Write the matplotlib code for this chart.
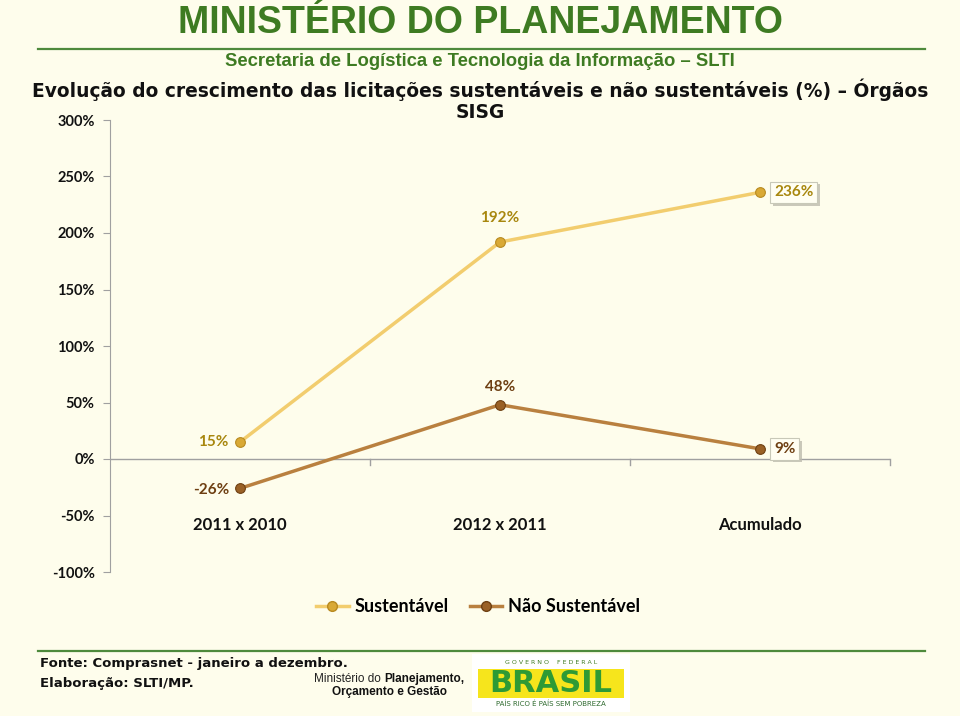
import matplotlib
matplotlib.use("Agg")
import matplotlib.pyplot as plt
from matplotlib.lines import Line2D
from matplotlib.patches import Rectangle
import matplotlib.patheffects as pe

categories = ["2011 x 2010", "2012 x 2011", "Acumulado"]
sustentavel = [15, 192, 236]
nao_sustentavel = [-26, 48, 9]
series_names = ["Sustentável", "Não Sustentável"]
yticks = [-100, -50, 0, 50, 100, 150, 200, 250, 300]

BG = "#FEFDEC"
GREEN = "#3E7B22"
C_S_LINE = "#F2CD6E"
C_S_MARK = "#D9A935"
C_S_TXT = "#A8870E"
C_N_LINE = "#B9803F"
C_N_MARK = "#9A6126"
C_N_TXT = "#6E3F12"
NARROW = ["Liberation Sans Narrow", "Liberation Sans"]

fig = plt.figure(figsize=(9.6, 7.16), dpi=100, facecolor=BG)

# Header
fig.text(0.5, 1 - 23 / 716, "MINISTÉRIO DO PLANEJAMENTO", ha="center", va="center",
         fontsize=27, color=GREEN, fontweight="bold", family=NARROW)
fig.add_artist(Line2D([38 / 960, 925 / 960], [1 - 49 / 716, 1 - 49 / 716],
                      color="#4E8A3C", lw=1.6))
fig.text(0.5, 1 - 62 / 716, "Secretaria de Logística e Tecnologia da Informação – SLTI",
         ha="center", va="center", fontsize=13.3, color=GREEN, fontweight="bold",
         family=NARROW)
fig.text(0.5, 1 - 90 / 716,
         "Evolução do crescimento das licitações sustentáveis e não sustentáveis (%) – Órgãos",
         ha="center", va="center", fontsize=13.4, fontweight="bold", color="#111111",
         family="DejaVu Sans")
fig.text(0.5, 1 - 113 / 716, "SISG", ha="center", va="center", fontsize=13.4,
         fontweight="bold", color="#111111", family="DejaVu Sans")

# Chart
ax = fig.add_axes([110 / 960, 1 - 572 / 716, 780 / 960, 452 / 716])
ax.set_facecolor(BG)
x = list(range(len(categories)))
ax.set_xlim(-0.5, len(categories) - 0.5)
ax.set_ylim(-100, 300)

ax.plot(x, sustentavel, color=C_S_LINE, lw=2.5, marker="o", ms=7,
        mfc=C_S_MARK, mec="#B88A20", mew=0.8, zorder=3)
ax.plot(x, nao_sustentavel, color=C_N_LINE, lw=2.5, marker="o", ms=7,
        mfc=C_N_MARK, mec="#6E4012", mew=0.8, zorder=3)

for sp in ["top", "right", "bottom"]:
    ax.spines[sp].set_visible(False)
ax.spines["left"].set_color("#A0A0A0")
ax.set_yticks(yticks)
ax.set_yticklabels([f"{v}%" for v in yticks], fontsize=10.5, fontweight="bold",
                   family="Lato", color="#111111")
ax.tick_params(axis="y", length=5, color="#A0A0A0", pad=6)
ax.set_xticks([])
ax.axhline(0, color="#A0A0A0", lw=1, zorder=1)
for b in [i + 0.5 for i in x]:
    ax.plot([b, b], [0, -5], color="#A0A0A0", lw=1, clip_on=False)

# Category labels
for xi, c in zip(x, categories):
    ax.text(xi, -58, c, ha="center", va="center", fontsize=12, fontweight="bold",
            family="Lato", color="#111111")

lab_kw = dict(fontsize=11, fontweight="bold", family="Lato")
box = dict(boxstyle="square,pad=0.25", fc="#FFFEF2", ec="#C8C8B8", lw=0.8)


def boxed(xv, yv, txt, color):
    t = ax.annotate(txt, (xv, yv), xytext=(10, 0), textcoords="offset points",
                    ha="left", va="center", color=color, bbox=box, **lab_kw)
    t.get_bbox_patch().set_path_effects(
        [pe.SimplePatchShadow(offset=(2, -2), shadow_rgbFace="#BDBBAE", alpha=0.8),
         pe.Normal()])


# Sustentável labels
ax.annotate(f"{sustentavel[0]}%", (x[0], sustentavel[0]), xytext=(-8, 0),
            textcoords="offset points", ha="right", va="center", color=C_S_TXT, **lab_kw)
ax.annotate(f"{sustentavel[1]}%", (x[1], sustentavel[1]), xytext=(0, 12),
            textcoords="offset points", ha="center", va="bottom", color=C_S_TXT, **lab_kw)
boxed(x[2], sustentavel[2], f"{sustentavel[2]}%", C_S_TXT)
# Não sustentável labels
ax.annotate(f"{nao_sustentavel[0]}%", (x[0], nao_sustentavel[0]), xytext=(-8, -1),
            textcoords="offset points", ha="right", va="center", color=C_N_TXT, **lab_kw)
ax.annotate(f"{nao_sustentavel[1]}%", (x[1], nao_sustentavel[1]), xytext=(0, 8),
            textcoords="offset points", ha="center", va="bottom", color=C_N_TXT, **lab_kw)
boxed(x[2], nao_sustentavel[2], f"{nao_sustentavel[2]}%", C_N_TXT)

# Legend
handles = [
    Line2D([], [], color=C_S_LINE, lw=2.5, marker="o", ms=7, mfc=C_S_MARK, mec="#B88A20"),
    Line2D([], [], color=C_N_LINE, lw=2.5, marker="o", ms=7, mfc=C_N_MARK, mec="#6E4012"),
]
fig.legend(handles, series_names, loc="center", bbox_to_anchor=(478 / 960, 1 - 607 / 716),
           ncol=2, frameon=False, handlelength=1.8, handletextpad=0.3, columnspacing=1.2,
           prop={"family": "Lato", "weight": "bold", "size": 13})

# Footer
fig.add_artist(Line2D([38 / 960, 925 / 960], [1 - 651 / 716, 1 - 651 / 716],
                      color="#4E8A3C", lw=1.6))
fig.text(40 / 960, 1 - 663 / 716, "Fonte: Comprasnet - janeiro a dezembro.",
         ha="left", va="center", fontsize=9.5, fontweight="bold", family="DejaVu Sans",
         color="#111111")
fig.text(40 / 960, 1 - 683 / 716, "Elaboração: SLTI/MP.",
         ha="left", va="center", fontsize=9.5, fontweight="bold", family="DejaVu Sans",
         color="#111111")
fig.text(381 / 960, 1 - 679 / 716, "Ministério do", ha="right", va="center",
         fontsize=8.5, family=NARROW, color="#222222")
fig.text(384 / 960, 1 - 679 / 716, "Planejamento,", ha="left", va="center",
         fontsize=8.5, fontweight="bold", family=NARROW, color="#111111")
fig.text(390 / 960, 1 - 692 / 716, "Orçamento e Gestão", ha="center", va="center",
         fontsize=8.5, fontweight="bold", family=NARROW, color="#111111")

# Government logo (text based)
fig.add_artist(Rectangle((472 / 960, 1 - 712 / 716), 158 / 960, 58 / 716,
                         transform=fig.transFigure, fc="white", ec="none"))
fig.text(551 / 960, 1 - 663 / 716, "G O V E R N O    F E D E R A L", ha="center",
         va="center", fontsize=4.5, color="#3E7B22", family="DejaVu Sans")
fig.add_artist(Rectangle((478 / 960, 1 - 698 / 716), 146 / 960, 29 / 716,
                         transform=fig.transFigure, fc="#F6E51C", ec="none"))
fig.text(551 / 960, 1 - 684 / 716, "BRASIL", ha="center", va="center", fontsize=22,
         fontweight="bold", color="#2E9A35", family="DejaVu Sans")
fig.text(551 / 960, 1 - 704 / 716, "PAÍS RICO É PAÍS SEM POBREZA", ha="center",
         va="center", fontsize=5, color="#2E6A2E", family="DejaVu Sans")

fig.savefig("out.png", dpi=100, facecolor=BG)
